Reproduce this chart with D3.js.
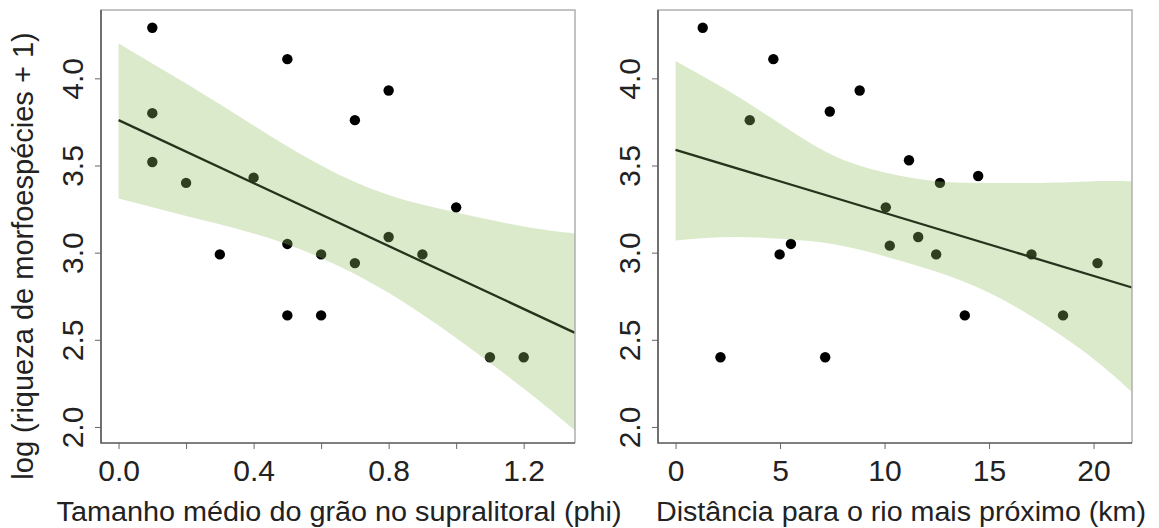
<!DOCTYPE html>
<html>
<head>
<meta charset="utf-8">
<script src="https://cdn.jsdelivr.net/npm/d3@7"></script>
<style>
  html, body { margin: 0; padding: 0; background: #fff; }
  svg { display: block; font-family: 'Liberation Sans', Arial, sans-serif; }
</style>
</head>
<body>
<script>
// left panel: grain size (phi)
const grainX = [0.1, 0.1, 0.1, 0.2, 0.3, 0.4, 0.5, 0.5, 0.5, 0.6, 0.6, 0.7, 0.7, 0.8, 0.8, 0.9, 1.0, 1.1, 1.2]
const grainY = [4.29, 3.80, 3.52, 3.40, 2.99, 3.43, 4.11, 3.05, 2.64, 2.99, 2.64, 3.76, 2.94, 3.93, 3.09, 2.99, 3.26, 2.40, 2.40]
const grainLineX = [0, 1.352]
const grainLineY = [3.76, 2.54]
const grainBandX = [0, 0.2, 0.4, 0.6, 0.8, 1.0, 1.2, 1.352]
const grainBandUpper = [4.20, 3.97, 3.73, 3.50, 3.33, 3.23, 3.15, 3.11]
const grainBandLower = [3.31, 3.21, 3.11, 2.97, 2.77, 2.51, 2.22, 1.98]
const grainTicks = [0, 0.2, 0.4, 0.6, 0.8, 1.0, 1.2]
const grainLabels = [0, 0.4, 0.8, 1.2]

// right panel: distance to nearest river (km)
const distX = [1.3, 2.15, 3.55, 4.68, 4.98, 5.52, 7.16, 7.38, 8.81, 10.06, 10.25, 11.17, 11.61, 12.47, 12.65, 13.84, 14.48, 17.03, 18.54, 20.19]
const distY = [4.29, 2.40, 3.76, 4.11, 2.99, 3.05, 2.40, 3.81, 3.93, 3.26, 3.04, 3.53, 3.09, 2.99, 3.40, 2.64, 3.44, 2.99, 2.64, 2.94]
const distLineX = [0, 21.84]
const distLineY = [3.59, 2.80]
const distBandX = [0, 2.5, 5, 7.5, 10, 12.5, 15, 17.5, 20, 21.84]
const distBandUpper = [4.10, 3.93, 3.74, 3.56, 3.46, 3.41, 3.40, 3.40, 3.41, 3.41]
const distBandLower = [3.07, 3.09, 3.08, 3.05, 2.98, 2.89, 2.77, 2.60, 2.39, 2.20]
const distTicks = [0, 5, 10, 15, 20]
const distLabels = [0, 5, 10, 15, 20]

const yTicks = [2.0, 2.5, 3.0, 3.5, 4.0]
const yTitle = 'log (riqueza de morfoespécies + 1)'

const width = 1159
const height = 528
const plotTop = 10
const plotBottom = 443

const panels = [
  {
    xs: grainX, ys: grainY, lineX: grainLineX, lineY: grainLineY,
    bandX: grainBandX, upper: grainBandUpper, lower: grainBandLower,
    ticks: grainTicks, labels: grainLabels, fmt: d3.format('.1f'),
    domain: [-0.052, 1.352], left: 101, right: 575,
    title: 'Tamanho médio do grão no supralitoral (phi)', titleX: 339, titleLen: 565
  },
  {
    xs: distX, ys: distY, lineX: distLineX, lineY: distLineY,
    bandX: distBandX, upper: distBandUpper, lower: distBandLower,
    ticks: distTicks, labels: distLabels, fmt: d3.format('d'),
    domain: [-0.84, 21.84], left: 658, right: 1132,
    title: 'Distância para o rio mais próximo (km)', titleX: 901, titleLen: 490
  }
]

const svg = d3.select('body').append('svg')
  .attr('width', width)
  .attr('height', height)

const y = d3.scaleLinear().domain([1.908, 4.392]).range([plotBottom, plotTop])

panels.forEach(p => {
  const x = d3.scaleLinear().domain(p.domain).range([p.left, p.right])
  const g = svg.append('g')

  // points first, band over them so they show through dark green
  g.append('g')
    .selectAll('circle')
    .data(d3.zip(p.xs, p.ys))
    .enter()
    .append('circle')
    .attr('cx', d => x(d[0]))
    .attr('cy', d => y(d[1]))
    .attr('r', 5.2)
    .attr('fill', '#000')

  const band = p.bandX.map((v, i) => [v, p.lower[i], p.upper[i]])
  g.append('path')
    .datum(band)
    .attr('d', d3.area()
      .x(d => x(d[0]))
      .y0(d => y(d[1]))
      .y1(d => y(d[2]))
      .curve(d3.curveNatural))
    .attr('fill', 'rgb(142,190,94)')
    .attr('fill-opacity', 0.33)

  g.append('path')
    .datum(d3.zip(p.lineX, p.lineY))
    .attr('d', d3.line().x(d => x(d[0])).y(d => y(d[1])))
    .attr('stroke', '#26331c')
    .attr('stroke-width', 2.3)
    .attr('fill', 'none')

  // box: top/right lighter than the axis sides
  g.append('path')
    .attr('d', `M${p.left},${plotBottom}V${plotTop}H${p.right}V${plotBottom}`)
    .attr('fill', 'none')
    .attr('stroke', '#b0b0b0')
    .attr('stroke-width', 1.5)
  g.append('path')
    .attr('d', `M${p.left},${plotTop}V${plotBottom}H${p.right}`)
    .attr('fill', 'none')
    .attr('stroke', '#555')
    .attr('stroke-width', 1.5)

  // x axis
  const xAxis = g.append('g')
    .attr('transform', `translate(0,${plotBottom})`)
    .call(d3.axisBottom(x)
      .tickValues(p.ticks)
      .tickSize(6)
      .tickSizeOuter(0)
      .tickFormat(d => p.labels.some(l => Math.abs(l - d) < 1e-9) ? p.fmt(d) : ''))
  xAxis.select('.domain').remove()
  xAxis.selectAll('line').attr('stroke', '#666')
  xAxis.selectAll('text')
    .attr('y', 38)
    .attr('dy', 0)
    .attr('font-size', 30)
    .attr('font-family', "'Liberation Sans', Arial, sans-serif")
    .attr('fill', '#222')

  // y axis, labels parallel to the axis
  const yAxis = g.append('g')
    .attr('transform', `translate(${p.left},0)`)
    .call(d3.axisLeft(y)
      .tickValues(yTicks)
      .tickSize(6)
      .tickSizeOuter(0)
      .tickFormat(d3.format('.1f')))
  yAxis.select('.domain').remove()
  yAxis.selectAll('line').attr('stroke', '#666')
  yAxis.selectAll('text')
    .attr('x', 0)
    .attr('dy', '0.36em')
    .attr('text-anchor', 'middle')
    .attr('transform', 'translate(-29,0) rotate(-90)')
    .attr('font-size', 30)
    .attr('font-family', "'Liberation Sans', Arial, sans-serif")
    .attr('fill', '#222')

  svg.append('text')
    .attr('x', p.titleX)
    .attr('y', 521)
    .attr('text-anchor', 'middle')
    .attr('font-size', 27)
    .attr('textLength', p.titleLen)
    .attr('lengthAdjust', 'spacingAndGlyphs')
    .attr('fill', '#222')
    .text(p.title)
})

svg.append('text')
  .attr('transform', 'translate(33,256) rotate(-90)')
  .attr('text-anchor', 'middle')
  .attr('font-size', 29)
  .attr('fill', '#222')
  .text(yTitle)
</script>
</body>
</html>
